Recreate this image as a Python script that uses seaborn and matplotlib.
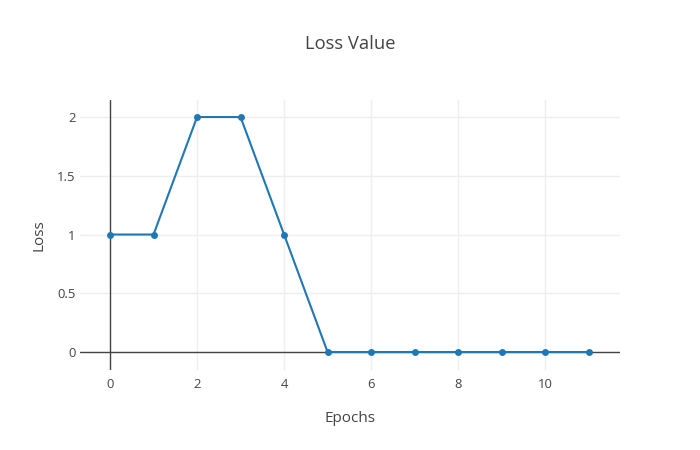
import seaborn as sns
import pandas as pd
import matplotlib.pyplot as plt

# Loss per epoch
epochs = [0, 1, 2, 3, 4, 5, 6, 7, 8, 9, 10, 11]
loss = [1, 1, 2, 2, 1, 0, 0, 0, 0, 0, 0, 0]

df = pd.DataFrame({'Epochs': epochs, 'Loss': loss})

sns.set_style('white')
plt.rcParams['font.family'] = ['Open Sans', 'DejaVu Sans']

fig = plt.figure(figsize=(7, 4.5), dpi=100)
ax = fig.add_axes([80 / 700, 80 / 450, 540 / 700, 270 / 450])

sns.lineplot(data=df, x='Epochs', y='Loss', ax=ax, color='#1f77b4',
             linewidth=1.5, marker='o', markersize=5, markeredgewidth=0,
             zorder=3)

ax.set_xlim(-0.69, 11.72)
ax.set_ylim(-0.153, 2.145)
ax.set_xticks([0, 2, 4, 6, 8, 10])
ax.set_yticks([0, 0.5, 1, 1.5, 2])
ax.set_yticklabels(['0', '0.5', '1', '1.5', '2'])

# light grid and dark zero lines like plotly
ax.grid(True, color='#eeeeee', linewidth=1)
ax.axhline(0, color='#444444', linewidth=1, zorder=2)
ax.axvline(0, color='#444444', linewidth=1, zorder=2)
for s in ax.spines.values():
    s.set_visible(False)

ax.tick_params(axis='both', length=0, labelsize=9.4, labelcolor='#444444')
ax.tick_params(axis='y', pad=3)
ax.tick_params(axis='x', pad=6)
ax.set_xlabel('Epochs', fontsize=11, color='#444444', labelpad=14)
ax.set_ylabel('Loss', fontsize=11, color='#444444', labelpad=8)
fig.text(0.5, 1 - 44 / 450, 'Loss Value', ha='center', va='center',
         fontsize=13.2, color='#444444')

fig.savefig('out.png', dpi=100)
